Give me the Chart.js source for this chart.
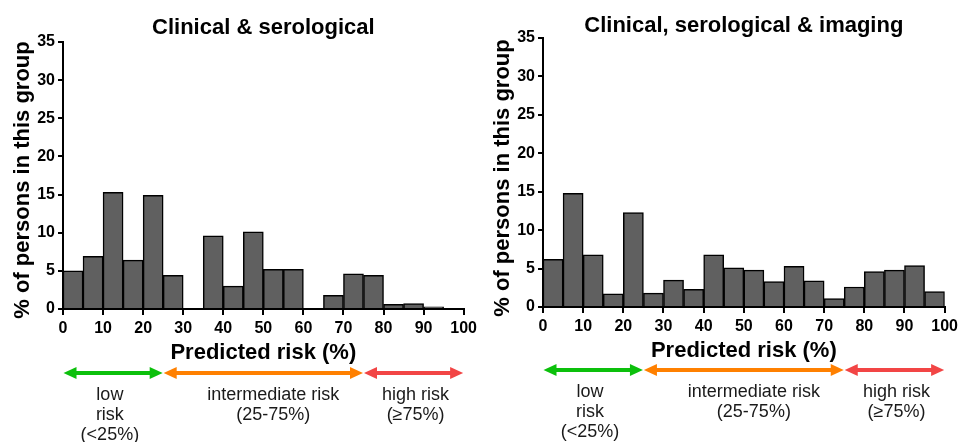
<!DOCTYPE html>
<html>
<head>
<meta charset="utf-8">
<script src="https://cdn.jsdelivr.net/npm/chart.js@4/dist/chart.umd.min.js"></script>
<style>
html,body{margin:0;padding:0;background:#fff;}
#wrap{position:relative;width:962px;height:442px;overflow:hidden;}
canvas{position:absolute;top:0;}
</style>
</head>
<body>
<div id="wrap">
<canvas id="c1" width="481" height="442" style="left:0px"></canvas>
<canvas id="c2" width="481" height="442" style="left:481px"></canvas>
</div>
<script>
// ---- data ----
const binStarts = [0,5,10,15,20,25,30,35,40,45,50,55,60,65,70,75,80,85,90,95];
const binWidth = 5;
const clinicalSerological = [5.0,6.9,15.3,6.4,14.9,4.4,0,9.6,3.0,10.1,5.2,5.2,0,1.8,4.6,4.4,0.6,0.7,0.3,0];
const clinicalSerologicalImaging = [6.2,14.8,6.8,1.7,12.3,1.8,3.5,2.3,6.8,5.1,4.8,3.3,5.3,3.4,1.1,2.6,4.6,4.8,5.4,2.0];
const xTicks = [0,10,20,30,40,50,60,70,80,90,100];
const yTicks = [0,5,10,15,20,25,30,35];
const chartTitles = ['Clinical & serological', 'Clinical, serological & imaging'];
const xAxisTitle = 'Predicted risk (%)';
const yAxisTitle = '% of persons in this group';
const riskEdges = [0,25,75,100];
const riskLabels = [['low','risk','(<25%)'], ['intermediate risk','(25-75%)'], ['high risk','(\u226575%)']];
const riskLabelAt = [11.7, 52.5, 88];

// ---- styling ----
const FAMILY = '"Liberation Sans", Arial, Helvetica, sans-serif';
const riskColors = ['#0cc00c', '#ff8000', '#f24545'];

function drawArrow(ctx, x0, x1, y, color) {
  const hl = 13, hh = 6, lw = 4;
  ctx.fillStyle = color;
  ctx.fillRect(x0 + hl - 1, y - lw / 2, (x1 - x0) - 2 * hl + 2, lw);
  ctx.beginPath(); ctx.moveTo(x0, y); ctx.lineTo(x0 + hl, y - hh); ctx.lineTo(x0 + hl, y + hh); ctx.closePath(); ctx.fill();
  ctx.beginPath(); ctx.moveTo(x1, y); ctx.lineTo(x1 - hl, y - hh); ctx.lineTo(x1 - hl, y + hh); ctx.closePath(); ctx.fill();
}

const decorPlugin = {
  id: 'decor',
  afterDraw(chart, args, o) {
    const ctx = chart.ctx, ca = chart.chartArea, xs = chart.scales.x;
    ctx.save();
    ctx.fillStyle = '#000';
    ctx.font = 'bold 22px ' + FAMILY;
    ctx.textAlign = 'center';
    ctx.textBaseline = 'alphabetic';
    ctx.fillText(o.title, (ca.left + ca.right) / 2, o.titleBaseline);
    ctx.save();
    ctx.translate(o.yTitleX, o.yTitleY);
    ctx.rotate(-Math.PI / 2);
    ctx.fillText(yAxisTitle, 0, 0);
    ctx.restore();
    for (let i = 0; i < riskEdges.length - 1; i++) {
      const a = xs.getPixelForValue(riskEdges[i]) + 0.5;
      const b = xs.getPixelForValue(riskEdges[i + 1]) - 0.5;
      drawArrow(ctx, a, b, o.arrowY, riskColors[i]);
    }
    ctx.fillStyle = '#1a1a1a';
    ctx.font = '18px ' + FAMILY;
    ctx.textAlign = 'center';
    ctx.textBaseline = 'alphabetic';
    riskLabels.forEach((lines, i) => {
      const cx = xs.getPixelForValue(riskLabelAt[i]);
      lines.forEach((t, j) => ctx.fillText(t, cx, o.arrowY + 27 + 20 * j));
    });
    ctx.restore();
  }
};

function makeChart(id, values, title, g) {
  const data = binStarts.map((s, i) => ({ x: s + binWidth / 2, y: values[i] }));
  return new Chart(document.getElementById(id), {
    type: 'bar',
    data: {
      datasets: [{
        data: data,
        backgroundColor: '#606060',
        borderColor: '#000',
        borderWidth: 1.5,
        barPercentage: 1.0,
        categoryPercentage: 1.0
      }]
    },
    options: {
      responsive: false,
      animation: false,
      events: [],
      layout: { padding: { left: 0, top: g.top, right: g.padRight, bottom: 0 } },
      plugins: {
        legend: { display: false },
        tooltip: { enabled: false },
        title: { display: false },
        decor: { title: title, titleBaseline: g.titleBaseline, yTitleX: g.yTitleX, yTitleY: g.yTitleY, arrowY: g.arrowY }
      },
      scales: {
        x: {
          type: 'linear', min: 0, max: 100, offset: false,
          afterBuildTicks: s => { s.ticks = xTicks.map(v => ({ value: v })); },
          afterFit: s => { s.height = g.xAxisH; },
          grid: { offset: false, drawOnChartArea: false, drawTicks: true, tickLength: 6, color: '#000', lineWidth: 2 },
          border: { display: true, color: '#000', width: 2 },
          ticks: { color: '#000', font: { family: FAMILY, size: 16, weight: 'bold' }, padding: 4, maxRotation: 0, autoSkip: false },
          title: { display: true, text: xAxisTitle, color: '#000', font: { family: FAMILY, size: 22, weight: 'bold' }, padding: { top: 0, bottom: g.xTitlePad } }
        },
        y: {
          min: 0, max: 35,
          afterBuildTicks: s => { s.ticks = yTicks.map(v => ({ value: v })); },
          afterFit: s => { s.width = g.yAxisW; },
          grid: { drawOnChartArea: false, drawTicks: true, tickLength: 5, color: '#000', lineWidth: 2 },
          border: { display: true, color: '#000', width: 2 },
          ticks: { color: '#000', font: { family: FAMILY, size: 16, weight: 'bold' }, padding: 3, autoSkip: false }
        }
      }
    },
    plugins: [decorPlugin]
  });
}

makeChart('c1', clinicalSerological, chartTitles[0], {
  top: 42, padRight: 16, yAxisW: 63, xAxisH: 133, xTitlePad: 76,
  titleBaseline: 33.5, yTitleX: 28.5, yTitleY: 180, arrowY: 373
});
makeChart('c2', clinicalSerologicalImaging, chartTitles[1], {
  top: 38, padRight: 15, yAxisW: 62, xAxisH: 135, xTitlePad: 78,
  titleBaseline: 31.5, yTitleX: 27.5, yTitleY: 178, arrowY: 370
});
</script>
</body>
</html>
